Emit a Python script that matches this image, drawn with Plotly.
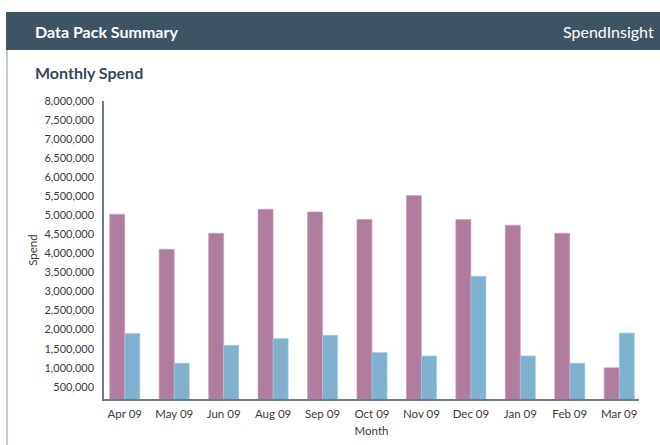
import plotly.graph_objects as go

months = ["Apr 09", "May 09", "Jun 09", "Aug 09", "Sep 09", "Oct 09",
          "Nov 09", "Dec 09", "Jan 09", "Feb 09", "Mar 09"]
spend_a = [5030000, 4110000, 4530000, 5160000, 5090000, 4890000,
           5520000, 4890000, 4740000, 4530000, 1000000]
spend_b = [1900000, 1120000, 1590000, 1770000, 1850000, 1400000,
           1310000, 3400000, 1310000, 1120000, 1910000]
tick_vals = list(range(500000, 8000001, 500000))
tick_text = [f"{v:,}" for v in tick_vals]

FONT = "Lato"
PURPLE = "#b07d9e"
BLUE = "#80b2d0"
SLATE = "#3f5463"
TXT = "#3a3a3a"

L, R, T, B = 104, 21, 101, 46
W, H = 660, 445
pw, ph = W - L - R, H - T - B


def px(x):
    return (x - L) / pw


def py(y):
    return (H - B - y) / ph


fig = go.Figure()
fig.add_trace(go.Bar(x=months, y=spend_a,
                     marker=dict(color=PURPLE, line=dict(color="#c9a3bb", width=0.6))))
fig.add_trace(go.Bar(x=months, y=spend_b,
                     marker=dict(color=BLUE, line=dict(color="#a6cbe0", width=0.6))))

fig.update_layout(
    width=W, height=H,
    margin=dict(l=L, r=R, t=T, b=B, autoexpand=False),
    paper_bgcolor="white", plot_bgcolor="white",
    showlegend=False,
    barmode="group", bargap=0.39, bargroupgap=0,
    font=dict(family=FONT, size=11, color=TXT),
    xaxis=dict(
        automargin=False, range=[-0.42, 10.4],
        showgrid=False, showline=True, linecolor="#6b7b8a", linewidth=1.5,
        ticks="", tickfont=dict(size=11.5, color=TXT), ticklabelstandoff=3,
        title=dict(text="Month", font=dict(size=11.5, color=TXT), standoff=8),
    ),
    yaxis=dict(
        automargin=False,
        range=[180000, 8000000], showgrid=False, zeroline=False,
        showline=True, linecolor="#6b7b8a", linewidth=1.5,
        tickvals=tick_vals, ticktext=tick_text, ticks="",
        tickfont=dict(size=11, color=TXT), ticklabelstandoff=6,
        title=dict(text="Spend", font=dict(size=11.5, color=TXT), standoff=4),
    ),
    shapes=[
        dict(type="rect", xref="paper", yref="paper", x0=px(6), x1=px(661), y0=py(50), y1=py(12),
             fillcolor=SLATE, line=dict(width=0), layer="above"),
        dict(type="line", xref="paper", yref="paper", x0=px(7), x1=px(7), y0=py(50), y1=py(446),
             line=dict(color="#8a96a0", width=1), layer="above"),
    ],
)

fig.add_annotation(xref="paper", yref="paper", x=px(33), y=py(31), text="<b>Data Pack Summary</b>",
                   showarrow=False, xanchor="left", yanchor="middle",
                   font=dict(family=FONT, size=16, color="white"))
fig.add_annotation(xref="paper", yref="paper", x=px(656), y=py(31), text="SpendInsight",
                   showarrow=False, xanchor="right", yanchor="middle",
                   font=dict(family=FONT, size=16, color="white"))
fig.add_annotation(xref="paper", yref="paper", x=px(33), y=py(73), text="<b>Monthly Spend</b>",
                   showarrow=False, xanchor="left", yanchor="middle",
                   font=dict(family=FONT, size=16, color="#34495a"))

fig.write_html("out.html", config={"displayModeBar": False},
               post_script="document.body.style.margin='0';document.body.style.overflow='hidden';")
